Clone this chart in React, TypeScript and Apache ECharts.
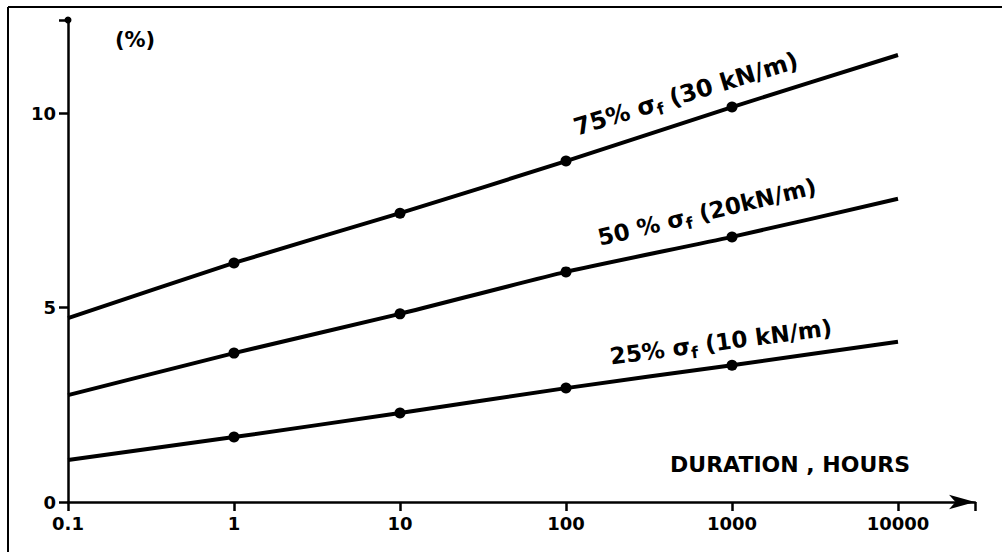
import React, { useEffect, useRef } from "react";
import * as echarts from "echarts";

// Durations (hours) along the log x axis
const durations = [0.1, 1, 10, 100, 1000, 10000];
// Strain (%) for each load level
const strain75 = [4.73, 6.15, 7.43, 8.77, 10.16, 11.5];
const strain50 = [2.75, 3.83, 4.84, 5.92, 6.82, 7.8];
const strain25 = [1.08, 1.67, 2.29, 2.93, 3.52, 4.12];
// Which durations are measured points (dots)
const measured = [false, true, true, true, true, false];

// Axis ranges
const xMin = 0.1;
const xMax = 29100; // end of the arrowed axis line
const yMin = 0;
const yMax = 12.4;
const yStep = 5;
const xLabelValues = [0.1, 1, 10, 100, 1000, 10000];
const yLabelValues = [0, 5, 10];

const curveNames = ["75% σf (30 kN/m)", "50 % σf (20kN/m)", "25% σf (10 kN/m)"];
const curveLabelParts = [
  { pre: "75% σ", sub: "f", post: " (30 kN/m)" },
  { pre: "50 % σ", sub: "f", post: " (20kN/m)" },
  { pre: "25% σ", sub: "f", post: " (10 kN/m)" },
];

const FONT = "DejaVu Sans";

export default function App() {
  const ref = useRef<HTMLDivElement>(null);

  useEffect(() => {
    if (!ref.current) return;
    const chart = echarts.init(ref.current, undefined, { renderer: "svg" });

    const mkSeries = (name: string, vals: number[]) => ({
      type: "line",
      name,
      data: durations.map((d, i) => ({
        value: [d, vals[i]],
        symbol: measured[i] ? "circle" : "none",
      })),
      symbolSize: 11,
      smooth: 0.2,
      silent: true,
      lineStyle: { color: "#000", width: 4 },
      itemStyle: { color: "#000" },
    });

    const labelPos = [
      { x: 686, y: 94, rot: 17, size: 24 },
      { x: 707, y: 212, rot: 13.5, size: 23 },
      { x: 721, y: 342, rot: 7.5, size: 23 },
    ];

    const curveTexts = curveLabelParts.map((p, i) => ({
      type: "text",
      x: labelPos[i].x,
      y: labelPos[i].y,
      rotation: (labelPos[i].rot * Math.PI) / 180,
      silent: true,
      style: {
        text: `{a|${p.pre}}{s|${p.sub}}{a|${p.post}}`,
        align: "center",
        verticalAlign: "middle",
        rich: {
          a: { fontSize: labelPos[i].size, fontFamily: FONT, fontWeight: "bold", fill: "#000" },
          s: { fontSize: 16, fontFamily: FONT, fontWeight: "bold", fill: "#000", padding: [14, 0, 0, 0] },
        },
      },
    }));

    const labelStyle = { color: "#000", fontSize: 18, fontWeight: "bold", fontFamily: FONT };

    chart.setOption({
      animation: false,
      grid: { left: 68, top: 20, right: 27, bottom: 50 },
      xAxis: {
        type: "log",
        min: xMin,
        max: xMax,
        axisLine: {
          show: true,
          onZero: false,
          lineStyle: { color: "#000", width: 2.5 },
          symbol: ["none", "arrow"],
          symbolSize: [11, 26],
        },
        axisTick: { show: true, length: 9, lineStyle: { color: "#000", width: 2.5 } },
        axisLabel: {
          customValues: xLabelValues,
          margin: 12,
          ...labelStyle,
          formatter: (v: number) => (v < 1 ? v.toFixed(1) : String(Math.round(v))),
        },
        splitLine: { show: false },
      },
      yAxis: {
        type: "value",
        min: yMin,
        max: yMax,
        interval: yStep,
        axisLine: {
          show: true,
          lineStyle: { color: "#000", width: 2.5 },
          symbol: ["none", "circle"],
          symbolSize: [7, 7],
        },
        axisTick: { show: true, length: 9, lineStyle: { color: "#000", width: 2.5 } },
        axisLabel: {
          customValues: yLabelValues,
          margin: 12,
          ...labelStyle,
        },
        splitLine: { show: false },
      },
      series: [
        mkSeries(curveNames[0], strain75),
        mkSeries(curveNames[1], strain50),
        mkSeries(curveNames[2], strain25),
      ],
      graphic: [
        { type: "line", silent: true, shape: { x1: 8, y1: 7, x2: 1002, y2: 7 }, style: { stroke: "#000", lineWidth: 2 } },
        { type: "line", silent: true, shape: { x1: 8, y1: 7, x2: 8, y2: 552 }, style: { stroke: "#000", lineWidth: 2 } },
        {
          type: "text",
          x: 135,
          y: 40,
          silent: true,
          style: { text: "(%)", align: "center", verticalAlign: "middle", fontSize: 21, fontWeight: "bold", fontFamily: FONT, fill: "#000" },
        },
        {
          type: "text",
          x: 670,
          y: 464,
          silent: true,
          style: { text: "DURATION , HOURS", align: "left", verticalAlign: "middle", fontSize: 22, fontWeight: "bold", fontFamily: FONT, fill: "#000" },
        },
        ...curveTexts,
      ],
    });

    return () => chart.dispose();
  }, []);

  return (
    <div
      ref={ref}
      style={{ position: "fixed", left: 0, top: 0, width: 1002, height: 552, background: "#fff" }}
    />
  );
}
